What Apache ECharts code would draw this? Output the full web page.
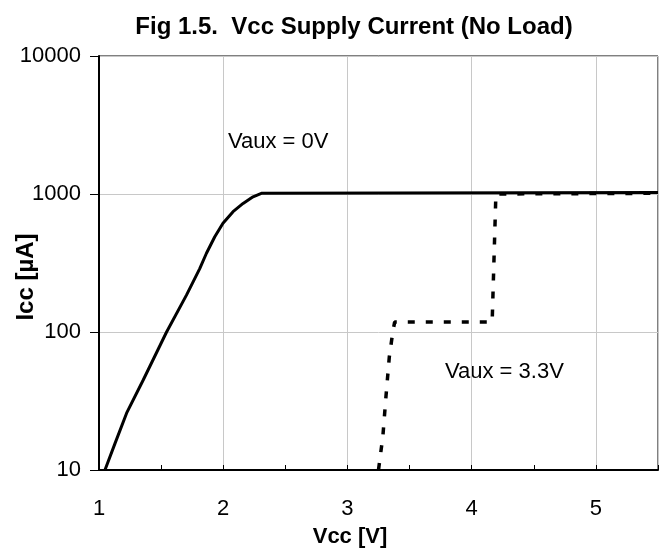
<!DOCTYPE html>
<html>
<head>
<meta charset="utf-8">
<script src="https://cdn.jsdelivr.net/npm/echarts@6/dist/echarts.min.js"></script>
<style>
  html, body { margin: 0; padding: 0; background: #fff; }
  #chart { width: 661px; height: 553px; }
</style>
</head>
<body>
<div id="chart"></div>
<script>
  // Vaux = 0V curve (Vcc [V], Icc [uA])
  var vccAux0 = [1.048, 1.129, 1.222, 1.356, 1.544, 1.704, 1.811, 1.865, 1.932, 1.998, 2.079, 2.16, 2.24, 2.307, 5.5];
  var iccAux0 = [10, 15.6, 25.8, 44.9, 100, 185, 288, 372, 490, 614, 745, 855, 955, 1012, 1025];
  // Vaux = 3.3V curve
  var vccAux33 = [3.25, 3.285, 3.31, 3.337, 3.365, 3.38, 4.165, 4.195, 5.5];
  var iccAux33 = [10, 17.5, 34, 66, 100, 118, 118, 1000, 1012];
  var yTicks = [10, 100, 1000, 10000];

  var font = 'Arial, "Liberation Sans", sans-serif';

  function pairs(xs, ys) {
    return xs.map(function (x, i) { return [x, ys[i]]; });
  }

  var chart = echarts.init(document.getElementById('chart'));
  var option = {
    animation: false,
    textStyle: { fontFamily: font },
    grid: {
      left: 99, right: 1, top: 56, bottom: 83,
      show: true, borderColor: '#000', borderWidth: 1
    },
    graphic: [
      { type: 'text', x: 354, y: 27, style: { text: 'Fig 1.5.  Vcc Supply Current (No Load)', font: 'bold 24px ' + font, fill: '#000', textAlign: 'center', textVerticalAlign: 'middle' } },
      { type: 'text', x: 350, y: 537, style: { text: 'Vcc [V]', font: 'bold 22px ' + font, fill: '#000', textAlign: 'center', textVerticalAlign: 'middle' } },
      { type: 'text', x: 26, y: 277, rotation: Math.PI / 2, style: { text: 'Icc [µA]', font: 'bold 24px ' + font, fill: '#000', textAlign: 'center', textVerticalAlign: 'middle' } },
      { type: 'text', x: 228, y: 142, style: { text: 'Vaux = 0V', font: '22px ' + font, fill: '#000', textVerticalAlign: 'middle' } },
      { type: 'text', x: 445, y: 372, style: { text: 'Vaux = 3.3V', font: '22px ' + font, fill: '#000', textVerticalAlign: 'middle' } }
    ],
    xAxis: [
      {
        type: 'value', min: 1, max: 5.5, interval: 0.5, position: 'bottom',
        axisLine: { onZero: false, lineStyle: { color: '#000', width: 2 } },
        axisTick: { inside: true, length: 5, lineStyle: { color: '#000', width: 1 } },
        axisLabel: {
          margin: 28, fontSize: 22, color: '#000', fontFamily: font,
          formatter: function (v) { return Math.abs(v - Math.round(v)) < 1e-6 ? String(Math.round(v)) : ''; }
        },
        splitLine: { show: false }
      },
      {
        type: 'value', min: 1, max: 5.5, interval: 1, position: 'bottom',
        axisLine: { show: false }, axisTick: { show: false }, axisLabel: { show: false },
        splitLine: { show: true, lineStyle: { color: '#c8c8c8', width: 1 } }
      }
    ],
    yAxis: {
      type: 'log', logBase: 10, min: 10, max: 10000,
      axisLine: { show: true, lineStyle: { color: '#000', width: 2 } },
      axisTick: { show: true, inside: false, length: 9, lineStyle: { color: '#000', width: 1 } },
      axisLabel: {
        margin: 18, fontSize: 22, color: '#000', fontFamily: font,
        formatter: function (v) {
          var r = Math.round(v);
          return yTicks.indexOf(r) >= 0 ? String(r) : '';
        }
      },
      splitLine: { show: true, lineStyle: { color: '#c8c8c8', width: 1 } }
    },
    series: [
      {
        name: 'Vaux = 0V', type: 'line', xAxisIndex: 0,
        data: pairs(vccAux0, iccAux0),
        showSymbol: false, symbol: 'none', smooth: false,
        lineStyle: { color: '#000', width: 3 }
      },
      {
        name: 'Vaux = 3.3V', type: 'line', xAxisIndex: 0,
        data: pairs(vccAux33, iccAux33),
        showSymbol: false, symbol: 'none', smooth: false,
        lineStyle: { color: '#000', width: 3.5, type: [7, 11] }
      }
    ]
  };
  chart.setOption(option);
</script>
</body>
</html>
